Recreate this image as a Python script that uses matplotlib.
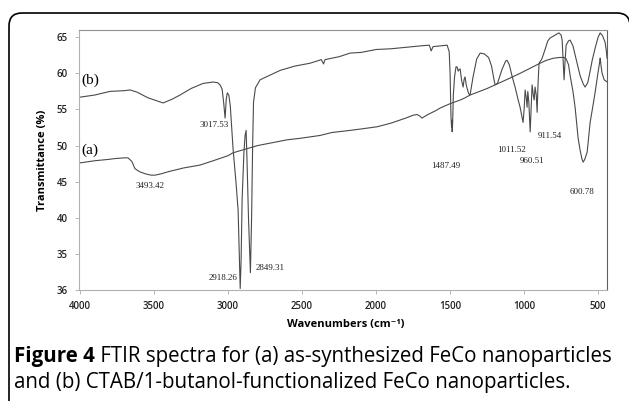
import matplotlib
matplotlib.use("Agg")
import matplotlib.pyplot as plt
from matplotlib.patches import FancyBboxPatch

# ---------------------------------------------------------------------------
# data (wavenumber in cm-1, transmittance in %)
# ---------------------------------------------------------------------------
wn_a = [4000, 3900, 3800, 3764, 3700, 3676, 3650, 3629, 3600, 3561, 3520, 3493,
        3450, 3400, 3300, 3189, 3100, 3000, 2966, 2900, 2800, 2700, 2600, 2514,
        2378, 2300, 2176, 2100, 1993, 1900, 1800, 1750, 1723, 1705, 1690, 1682,
        1650, 1600, 1567, 1500, 1432, 1400, 1365, 1300, 1250, 1196, 1100, 1027,
        950, 892, 850, 800, 757, 730, 716, 700, 689, 670, 655, 635, 622, 610,
        601, 590, 574, 554, 535, 520, 500, 490, 486, 480, 473, 459, 439]
T_a = [47.6, 47.9, 48.1, 48.2, 48.3, 48.3, 47.8, 46.8, 46.4, 46.1, 45.9, 45.9,
       46.1, 46.4, 46.9, 47.3, 47.9, 48.6, 49.0, 49.4, 50.0, 50.4, 50.8, 51.0,
       51.4, 51.8, 52.1, 52.3, 52.6, 53.1, 53.8, 54.2, 54.3, 54.1, 53.8, 53.9,
       54.3, 54.8, 55.2, 55.8, 56.3, 56.6, 57.0, 57.5, 57.9, 58.4, 59.3, 60.0,
       60.8, 61.4, 61.8, 62.1, 62.2, 62.2, 62.0, 61.2, 59.7, 57.5, 55.2, 51.0,
       49.4, 48.2, 47.7, 48.1, 49.1, 53.2, 55.5, 57.4, 60.2, 61.5, 62.1, 61.0,
       60.0, 59.1, 58.8]

wn_b = [4000, 3900, 3797, 3700, 3662, 3615, 3540, 3439, 3380, 3324, 3250, 3169,
        3101, 3070, 3054, 3040, 3030, 3020, 3012, 3005, 2995, 2985, 2966, 2946,
        2932, 2922, 2918, 2912, 2905, 2893, 2885, 2878, 2872, 2862, 2849, 2841,
        2834, 2828, 2815, 2784, 2700, 2649, 2550, 2446, 2370, 2355, 2345, 2250,
        2176, 2100, 2000, 1900, 1800, 1700, 1640, 1628, 1615, 1567, 1520, 1506,
        1500, 1494, 1490, 1488, 1486, 1483, 1478, 1470, 1460, 1453, 1445, 1440,
        1432, 1422, 1412, 1405, 1399, 1390, 1375, 1365, 1345, 1320, 1297, 1270,
        1240, 1220, 1205, 1196, 1180, 1150, 1125, 1115, 1100, 1080, 1061, 1040,
        1027, 1015, 1007, 1000, 993, 985, 980, 975, 968, 959, 952, 946, 938, 932,
        926, 918, 912, 906, 899, 880, 860, 840, 824, 790, 765, 750, 743, 736,
        730, 724, 716, 700, 689, 670, 655, 635, 622, 600, 588, 570, 555, 540,
        520, 500, 486, 470, 453, 445, 440]
T_b = [56.7, 57.0, 57.5, 57.6, 57.7, 57.4, 56.6, 55.9, 56.4, 57.0, 57.9, 58.6,
       58.8, 58.7, 58.4, 57.8, 56.0, 53.8, 56.5, 57.3, 57.0, 55.5, 49.5, 44.8,
       41.0, 33.0, 30.2, 34.0, 42.5, 49.0, 51.4, 52.1, 48.0, 40.0, 32.4, 40.0,
       50.0, 56.0, 58.0, 59.1, 59.9, 60.4, 61.0, 61.4, 61.9, 61.3, 61.9, 62.3,
       62.8, 62.9, 63.3, 63.4, 63.6, 63.8, 63.9, 63.1, 63.7, 63.8, 63.9, 63.0,
       60.0, 54.0, 52.5, 53.5, 51.9, 53.0, 57.0, 59.5, 60.9, 60.9, 60.3, 60.5,
       60.6, 59.0, 58.1, 59.2, 59.5, 58.3, 57.2, 57.0, 59.5, 62.0, 62.8, 62.7,
       62.2, 61.0, 59.3, 58.4, 58.6, 60.5, 61.7, 61.8, 61.2, 59.5, 58.1, 56.3,
       55.3, 54.0, 53.2, 55.0, 57.7, 56.5, 55.3, 57.5, 56.0, 51.9, 55.5, 58.4,
       57.0, 56.3, 58.1, 57.0, 54.6, 58.5, 61.4, 62.0, 63.2, 64.5, 64.9, 65.3,
       65.6, 65.3, 64.6, 61.5, 59.1, 61.5, 63.9, 64.5, 64.6, 63.8, 62.5, 60.8,
       59.7, 58.5, 58.1, 58.7, 60.2, 61.8, 63.5, 65.0, 65.6, 65.2, 64.3, 63.2,
       62.1]

# peak labels: text, x, y
peak_labels = ["3017.53", "3493.42", "2918.26", "2849.31", "1487.49",
               "1011.52", "960.51", "911.54", "600.78"]
peak_x = [3093, 3527, 3035, 2716, 1527, 1088, 946, 824, 608]
peak_y = [52.8, 44.4, 31.6, 33.0, 47.2, 49.4, 47.9, 51.3, 43.6]

y_ticks = [30, 35, 40, 45, 50, 55, 60, 65]
y_tick_labels = ["36", "35", "40", "45", "50", "55", "60", "65"]
x_ticks = [4000, 3500, 3000, 2500, 2000, 1500, 1000, 500]

LINE_COL = "#4a4a4a"
SANS = ["Open Sans", "DejaVu Sans"]

fig = plt.figure(figsize=(6.29, 4.01), dpi=100)
ax = fig.add_axes([79 / 629, 111 / 401, 528 / 629, 260 / 401])

ax.plot(wn_a, T_a, color=LINE_COL, lw=0.8)
ax.plot(wn_b, T_b, color=LINE_COL, lw=0.8)

ax.set_xlim(4007, 440)
ax.set_ylim(30, 66)
ax.set_xticks(x_ticks)
ax.set_xticklabels([str(t) for t in x_ticks])
ax.set_yticks(y_ticks)
ax.set_yticklabels(y_tick_labels)
for lab in ax.get_xticklabels() + ax.get_yticklabels():
    lab.set_family(SANS)
    lab.set_fontweight("semibold")
    lab.set_fontsize(7)
    lab.set_color("#222222")
ax.tick_params(direction="out", length=3, width=0.6, color="#aaaaaa", pad=5)

ax.spines["left"].set_color("#b0b0b0")
ax.spines["bottom"].set_color("#b0b0b0")
ax.spines["top"].set_color("#909090")
ax.spines["right"].set_color("#606060")
for s in ax.spines.values():
    s.set_linewidth(0.8)

# curve tags and peak positions
ax.text(3990, 59.0, "(b)", family="Liberation Serif", fontsize=11, va="center")
ax.text(3990, 49.4, "(a)", family="Liberation Serif", fontsize=11, va="center")
for t, x, y in zip(peak_labels, peak_x, peak_y):
    ax.text(x, y, t, family="Liberation Serif", fontsize=6.5, ha="center",
            va="center", color="#222222")

fig.text(42 / 629, (401 - 160) / 401, "Transmittance (%)", rotation=90,
         family=SANS, fontweight="bold", fontsize=8, ha="center", va="center")
fig.text(346 / 629, (401 - 325) / 401, "Wavenumbers (cm\u207b\u00b9)",
         family=SANS, fontweight="bold", fontsize=8, ha="center", va="center")

# rounded frame around figure + caption (right edge sits at the image border)
frame = FancyBboxPatch((0.09, -0.6), 6.21, 4.48,
                       boxstyle="round,pad=0,rounding_size=0.13",
                       transform=fig.dpi_scale_trans, fill=False,
                       edgecolor="black", lw=1.2, clip_on=False)
fig.patches.append(frame)

cap_size = 14.8
y1 = (401 - 362) / 401
y2 = (401 - 388) / 401
t1 = fig.text(14 / 629, y1, "Figure 4", family=SANS, fontweight="bold",
              fontsize=cap_size, va="baseline")
fig.canvas.draw()
bb = t1.get_window_extent(renderer=fig.canvas.get_renderer())
x_next = bb.x1 / fig.bbox.width
fig.text(x_next, y1, " FTIR spectra for (a) as-synthesized FeCo nanoparticles",
         family=SANS, fontsize=cap_size, va="baseline")
fig.text(14 / 629, y2, "and (b) CTAB/1-butanol-functionalized FeCo nanoparticles.",
         family=SANS, fontsize=cap_size, va="baseline")

fig.savefig("out.png", dpi=100)
